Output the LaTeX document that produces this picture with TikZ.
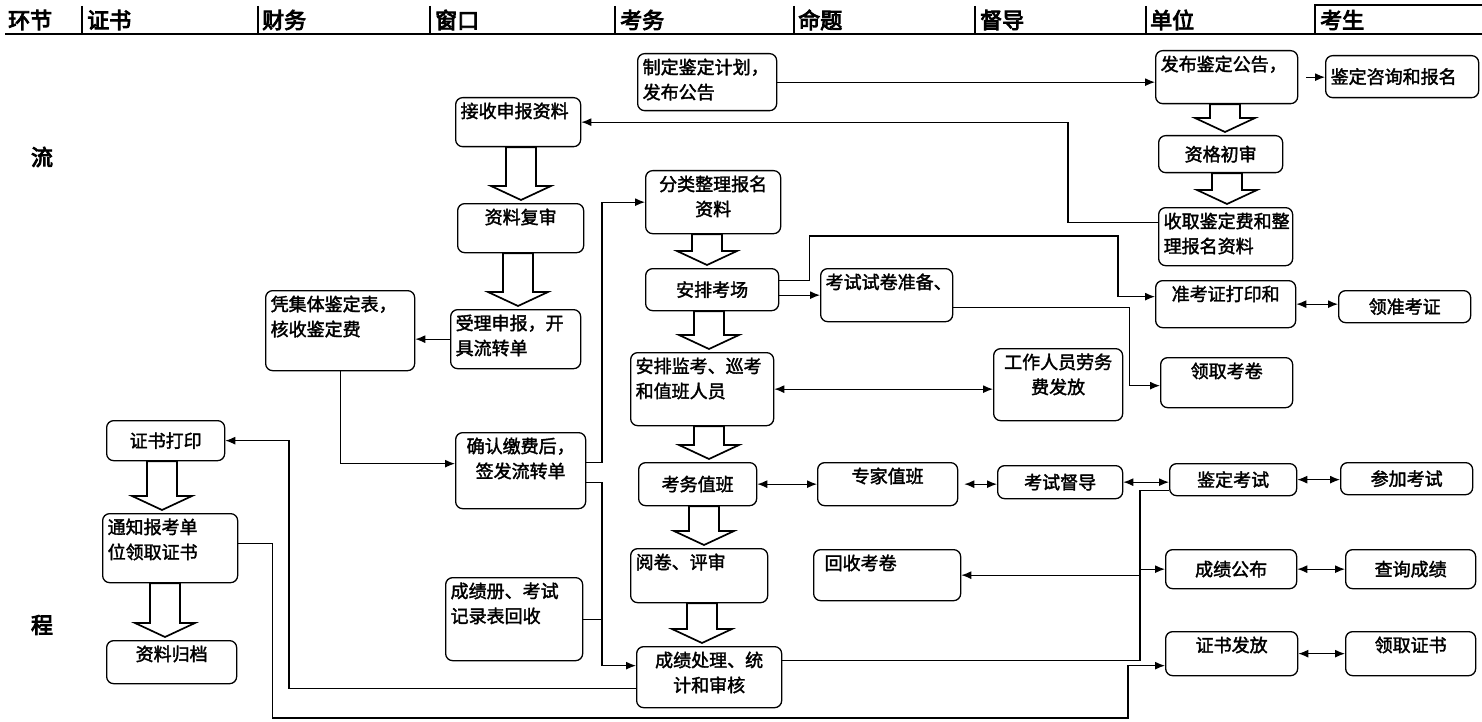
\documentclass[tikz,border=0pt]{standalone}
\usepackage{fontspec}
\usetikzlibrary{arrows.meta,calc}
\newfontfamily\cjk[FakeBold=2]{Noto Sans CJK SC}
\newfontfamily\cjkb[FakeBold=4]{Noto Sans CJK SC}
\newcommand\boxt[4][t]{\parbox[c][\dimexpr#3pt-10pt\relax][#1]{\dimexpr#2pt-10pt\relax}{#4}}
\newcommand\harrow[3]{\draw[fat] let \p1=(#2.south), \p2=(#3.north) in
  (#1pt-15pt,\y1) -- (#1pt+15pt,\y1) -- (#1pt+15pt,\y2+17pt) -- (#1pt+30pt,\y2+17pt)
  -- (#1pt,\y2+3pt) -- (#1pt-30pt,\y2+17pt) -- (#1pt-15pt,\y2+17pt) -- cycle;}

\begin{document}
\begin{tikzpicture}[x=1pt,y=-1pt,
  bx/.style={draw,rounded corners=7pt,line width=1.3pt,inner sep=5pt,anchor=north west,font=\cjk\fontsize{18}{25}\selectfont},
  ar/.style={line width=1.2pt,-{Latex[length=10pt,width=8pt]}},
  dar/.style={line width=1.2pt,{Latex[length=10pt,width=8pt]}-{Latex[length=10pt,width=8pt]}},
  ln/.style={line width=1.2pt},
  fat/.style={draw,line width=1.7pt,line join=miter},
  hd/.style={anchor=west,inner sep=0pt,font=\cjkb\fontsize{22}{24}\selectfont},
  sd/.style={inner sep=0pt,font=\cjkb\fontsize{22}{24}\selectfont}]
\useasboundingbox (0,0) rectangle (1482,722);

\draw[line width=1.6pt] (5,34) -- (1482,34);
\foreach \x in {82,258,430,615,794,975,1146}
  \draw[line width=1.2pt] (\x,6) -- (\x,34);
\draw[line width=1.8pt] (1315,34) -- (1315,5) -- (1482,5);
\foreach \x/\t [count=\i] in {8/环节,87/证书,262/财务,435/窗口,620/考务,798/命题,980/督导,1150/单位,1320/考生}
  \node[hd] (h\i) at (\x,20) {\t};
\node[sd] (liu) at (42,157) {流};
\node[sd] (cheng) at (42,625) {程};

\node[bx] (zd) at (637,53) {\boxt{139}{57}{制定鉴定计划，\\发布公告}};
\node[bx] (fb) at (1155,50) {\boxt{142}{53}{发布鉴定公告，}};
\node[bx] (zx) at (1325,55) {\boxt[c]{153}{42}{鉴定咨询和报名}};
\node[bx] (js) at (455,97) {\boxt{125}{49}{接收申报资料}};
\node[bx] (zg) at (1158,135) {\boxt[c]{124}{37}{\centering 资格初审}};
\node[bx] (fl) at (645,170) {\boxt{135}{63}{\centering 分类整理报名\\资料}};
\node[bx] (fs) at (457,203) {\boxt{126}{49}{\centering 资料复审}};
\node[bx] (sq) at (1158,207) {\boxt{134}{58}{收取鉴定费和整\\理报名资料}};
\node[bx] (kc) at (645,268) {\boxt[c]{133}{42}{\centering 安排考场}};
\node[bx] (ks) at (820,268) {\boxt{132}{53}{考试试卷准备、}};
\node[bx] (zk) at (1155,280) {\boxt{140}{47}{\centering 准考证打印和}};
\node[bx] (lz) at (1338,290) {\boxt[c]{132}{32}{\centering 领准考证}};
\node[bx] (pj) at (265,290) {\boxt{149}{80}{凭集体鉴定表，\\核收鉴定费}};
\node[bx] (sl) at (450,309) {\boxt{130}{59}{受理申报，开\\具流转单}};
\node[bx] (ap) at (630,352) {\boxt{143}{73}{安排监考、巡考\\和值班人员}};
\node[bx] (gz) at (993,348) {\boxt{129}{72}{\centering 工作人员劳务\\费发放}};
\node[bx] (lj) at (1160,357) {\boxt{132}{50}{\centering 领取考卷}};
\node[bx] (zs) at (106,420) {\boxt[c]{118}{40}{\centering 证书打印}};
\node[bx] (qr) at (455,432) {\boxt{130}{76}{\centering 确认缴费后，\\签发流转单}};
\node[bx] (kw) at (638,462) {\boxt[c]{118}{43}{\centering 考务值班}};
\node[bx] (zj) at (817,462) {\boxt{140}{43}{\centering 专家值班}};
\node[bx] (dd) at (997,465) {\boxt[c]{125}{33}{\centering 考试督导}};
\node[bx] (jk) at (1169,463) {\boxt[c]{127}{32}{\centering 鉴定考试}};
\node[bx] (ck) at (1340,462) {\boxt[c]{132}{32}{\centering 参加考试}};
\node[bx] (tz) at (102,513) {\boxt{135}{69}{通知报考单\\位领取证书}};
\node[bx] (yj) at (630,548) {\boxt{137}{54}{阅卷、评审}};
\node[bx] (hs) at (813,549) {\boxt{147}{51}{\hspace{6pt}回收考卷}};
\node[bx] (cg) at (1165,549) {\boxt[c]{131}{39}{\centering 成绩公布}};
\node[bx] (cx) at (1345,549) {\boxt[c]{130}{39}{\centering 查询成绩}};
\node[bx] (cj) at (445,577) {\boxt{137}{83}{成绩册、考试\\记录表回收}};
\node[bx] (zf) at (1165,631) {\boxt{132}{44}{\centering 证书发放}};
\node[bx] (lq) at (1345,631) {\boxt{130}{44}{\centering 领取证书}};
\node[bx] (gd) at (106,640) {\boxt{130}{43}{\centering 资料归档}};
\node[bx] (cc) at (636,646) {\boxt{145}{61}{\centering 成绩处理、统\\计和审核}};

\harrow{521}{js}{fs}
\harrow{518}{fs}{sl}
\harrow{1225}{fb}{zg}
\harrow{1227}{zg}{sq}
\harrow{707}{fl}{kc}
\harrow{709}{kc}{ap}
\harrow{709}{ap}{kw}
\harrow{704}{kw}{yj}
\harrow{702}{yj}{cc}
\harrow{162}{zs}{tz}
\harrow{165}{tz}{gd}

\coordinate (bus) at (602,0);
\coordinate (bus2) at (1140,0);
\draw[ar] (zd.east) -- (zd.east -| fb.west);
\draw[ar] ([xshift=8pt]fb.east) -- (fb.east -| zx.west);
\draw[ar] ([yshift=14pt]sq.west) -- ++(-90,0) |- (js.east);
\draw[ar] ([yshift=9pt]kc.east) -- ++(30,0) |- (1118,236) |- ([yshift=7.5pt]zk.west);
\draw[ar] (kc.east |- ks.west) -- (ks.west);
\draw[ar] ([yshift=-12.5pt]ks.east) -- ++(176,0) |- ([yshift=-3pt]lj.west);
\draw[dar] (zk.east) -- (zk.east -| lz.west);
\draw[dar] (ap.east) -- (ap.east -| gz.west);
\draw[ar] (sl.west) -- (sl.west -| pj.east);
\draw[ar] (pj.south) |- ([yshift=7pt]qr.west);
\draw[ar] ([yshift=8pt]qr.east) -- ([yshift=8pt]qr.east -| bus) |- (fl.west);
\draw[ar] ([yshift=-12pt]qr.east) -- ([yshift=-12pt]qr.east -| bus) |- ([yshift=11.5pt]cc.west);
\draw[ln] (cj.east) -- (cj.east -| bus);
\draw[dar] (kw.east) -- (kw.east -| zj.west);
\draw[dar] ([xshift=6pt]zj.east) -- (zj.east -| dd.west);
\draw[dar] (dd.east) -- (dd.east -| jk.west);
\draw[dar] (jk.east) -- (jk.east -| ck.west);
\draw[ar] ([yshift=-11pt]jk.west) -- ([yshift=-11pt]jk.west -| bus2) |- (hs.east);
\draw[ar] ([yshift=16.5pt]cc.east) -- ([yshift=16.5pt]cc.east -| bus2) |- (cg.west);
\draw[dar] (cg.east) -- (cg.east -| cx.west);
\draw[dar] (zf.east) -- (zf.east -| lq.west);
\draw[ar] ([yshift=-11.5pt]cc.west) -- ++(-347,0) |- (zs.east);
\draw[ar] ([yshift=4.5pt]tz.east) -- ++(34,0) |- (1128,718) |- ([yshift=-12pt]zf.west);
\end{tikzpicture}
\end{document}
